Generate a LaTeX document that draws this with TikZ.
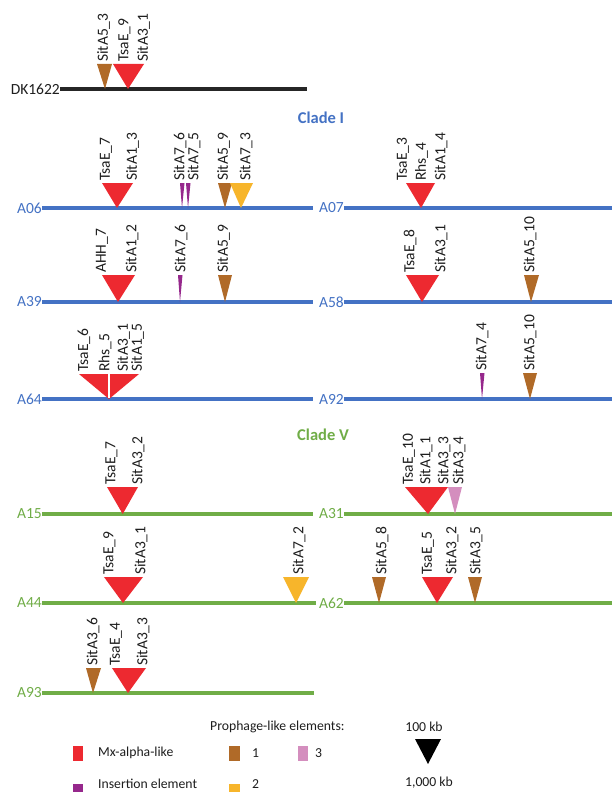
\documentclass[tikz,border=0pt]{standalone}
\usepackage{fontspec}
\setmainfont{Carlito}
\definecolor{mxred}{RGB}{237,41,48}
\definecolor{phbrown}{RGB}{176,106,40}
\definecolor{insp}{RGB}{150,40,140}
\definecolor{phyel}{RGB}{247,181,43}
\definecolor{phpink}{RGB}{212,142,190}
\definecolor{cladeb}{RGB}{68,114,196}
\definecolor{cladeg}{RGB}{112,173,71}
\definecolor{txt}{RGB}{30,30,30}
\newcommand\mytri[6]{\fill[#1] (#2,#5) -- (#3,#5) -- (#4,#6) -- cycle;}
\newcommand\glab[3]{\node[lbl] at (#1,#2) {#3};}
\begin{document}
\begin{tikzpicture}[x=1pt,y=-1pt,
  lbl/.style={rotate=90,anchor=west,inner sep=0pt,text=txt,font=\fontsize{15.5}{18}\selectfont},
  chrlab/.style={anchor=east,inner sep=0pt,font=\fontsize{15.5}{18}\selectfont},
  bluelab/.style={chrlab,text=cladeb},
  greenlab/.style={chrlab,text=cladeg},
  blueline/.style={draw=cladeb,line width=3.5pt},
  greenline/.style={draw=cladeg,line width=3.5pt},
  title/.style={font=\fontsize{16.5}{19}\selectfont\bfseries,inner sep=0pt},
  leg/.style={anchor=west,inner sep=0pt,text=txt,font=\fontsize{13.7}{16}\selectfont}]
\useasboundingbox (0,0) rectangle (614,792);
\fill[white] (0,0) rectangle (614,792);

% DK1622
\node[chrlab,text=txt] (dk) at (60,89) {DK1622};
\coordinate (dkE) at (307,89);
\draw[line width=3.5pt,draw=black!85] (dk.east) -- (dkE);
\mytri{phbrown}{97}{112}{105}{64}{89}
\mytri{mxred}{113}{144}{128}{64}{89}
\glab{103.5}{62}{SitA5\_3}
\glab{124.5}{62}{TsaE\_9}
\glab{143.5}{62}{SitA3\_1}

% Clade I
\node[title,text=cladeb] (c1) at (321,118) {Clade I};

% A06
\node[bluelab] (a06) at (42,208) {A06};
\coordinate (a06E) at (313,208);
\draw[blueline] (a06.east) -- (a06E);
\mytri{mxred}{102}{133}{117}{183}{208}
\mytri{insp}{180}{184.5}{182}{183}{208}
\mytri{insp}{186}{190.5}{188}{183}{208}
\mytri{phbrown}{218}{232}{225}{183}{208}
\mytri{phyel}{230}{253}{241}{183}{208}
\glab{106}{181}{TsaE\_7}
\glab{132.5}{181}{SitA1\_3}
\glab{180}{181}{SitA7\_6}
\glab{194}{181}{SitA7\_5}
\glab{223.5}{181}{SitA5\_9}
\glab{246}{181}{SitA7\_3}

% A07
\node[bluelab] (a07) at (344,208) {A07};
\coordinate (a07E) at (612,208);
\draw[blueline] (a07.east) -- (a07E);
\mytri{mxred}{406}{435}{421}{183}{208}
\glab{403}{181}{TsaE\_3}
\glab{421.5}{181}{Rhs\_4}
\glab{441}{181}{SitA1\_4}

% A39
\node[bluelab] (a39) at (42,302) {A39};
\coordinate (a39E) at (313,302);
\draw[blueline] (a39.east) -- (a39E);
\mytri{mxred}{102}{135}{118}{275}{302}
\mytri{insp}{178}{182.5}{180}{275}{302}
\mytri{phbrown}{218}{232}{225}{275}{302}
\glab{102}{273}{AHH\_7}
\glab{132}{273}{SitA1\_2}
\glab{181}{273}{SitA7\_6}
\glab{223.5}{273}{SitA5\_9}

% A58
\node[bluelab] (a58) at (344,302) {A58};
\coordinate (a58E) at (612,302);
\draw[blueline] (a58.east) -- (a58E);
\mytri{mxred}{406}{439}{422}{275}{302}
\mytri{phbrown}{524}{539}{531}{275}{302}
\glab{410}{273}{TsaE\_8}
\glab{441}{273}{SitA3\_1}
\glab{530}{273}{SitA5\_10}

% A64
\node[bluelab] (a64) at (42,399) {A64};
\coordinate (a64E) at (313,399);
\draw[blueline] (a64.east) -- (a64E);
\mytri{mxred}{79}{139}{109}{374}{399}
\draw[white,line width=1.5pt] (109,374) -- (109,398);
\glab{84}{372}{TsaE\_6}
\glab{105}{372}{Rhs\_5}
\glab{123.5}{372}{SitA3\_1}
\glab{137.5}{372}{SitA1\_5}

% A92
\node[bluelab] (a92) at (344,399) {A92};
\coordinate (a92E) at (612,399);
\draw[blueline] (a92.east) -- (a92E);
\mytri{insp}{480}{484.5}{482}{373}{399}
\mytri{phbrown}{523}{537}{530}{373}{399}
\glab{482}{371}{SitA7\_4}
\glab{530}{371}{SitA5\_10}

% Clade V
\node[title,text=cladeg] (c5) at (323,435) {Clade V};

% A15
\node[greenlab] (a15) at (42,514) {A15};
\coordinate (a15E) at (313,514);
\draw[greenline] (a15.east) -- (a15E);
\mytri{mxred}{107}{138}{122.7}{487}{514}
\glab{111.5}{485}{TsaE\_7}
\glab{138}{485}{SitA3\_2}

% A31
\node[greenlab] (a31) at (344,514) {A31};
\coordinate (a31E) at (612,514);
\draw[greenline] (a31.east) -- (a31E);
\mytri{mxred}{405}{448}{428}{487}{514}
\mytri{phpink}{448}{462}{455}{487}{514}
\glab{409}{485}{TsaE\_10}
\glab{426}{485}{SitA1\_1}
\glab{444}{485}{SitA3\_3}
\glab{459}{485}{SitA3\_4}

% A44
\node[greenlab] (a44) at (42,603) {A44};
\coordinate (a44E) at (316,603);
\draw[greenline] (a44.east) -- (a44E);
\mytri{mxred}{104}{143}{123}{577}{603}
\mytri{phyel}{283}{309}{296}{577}{603}
\glab{109.5}{575}{TsaE\_9}
\glab{141}{575}{SitA3\_1}
\glab{299}{575}{SitA7\_2}

% A62
\node[greenlab] (a62) at (344,603) {A62};
\coordinate (a62E) at (612,603);
\draw[greenline] (a62.east) -- (a62E);
\mytri{phbrown}{372}{386}{379}{577}{603}
\mytri{mxred}{422}{453}{437}{577}{603}
\mytri{phbrown}{468}{482}{475}{577}{603}
\glab{382}{575}{SitA5\_8}
\glab{428}{575}{TsaE\_5}
\glab{452}{575}{SitA3\_2}
\glab{476}{575}{SitA3\_5}

% A93
\node[greenlab] (a93) at (42,693) {A93};
\coordinate (a93E) at (314,693);
\draw[greenline] (a93.east) -- (a93E);
\mytri{phbrown}{86}{101}{93}{668}{693}
\mytri{mxred}{112}{146}{128}{668}{693}
\glab{93}{666}{SitA3\_6}
\glab{116}{666}{TsaE\_4}
\glab{143}{666}{SitA3\_3}

% Legend
\node[leg] (ph) at (210,727) {Prophage-like elements:};
\node[leg,anchor=center] (k100) at (424,727) {100 kb};
\fill[black] (415,739) -- (441,739) -- (428,764) -- cycle;
\node[leg,anchor=center] (k1000) at (429,783) {1,000 kb};
\fill[mxred] (73,746) rectangle (83,761);
\node[leg] (lmx) at (98,753) {Mx-alpha-like};
\fill[insp] (73,784) rectangle (83,799);
\node[leg] (lins) at (98,784) {Insertion element};
\fill[phbrown] (229,746) rectangle (240,761);
\node[leg] (l1) at (252,753) {1};
\fill[phpink] (298,746) rectangle (308,761);
\node[leg] (l3) at (315,753) {3};
\fill[phyel] (229,784) rectangle (240,799);
\node[leg] (l2) at (252,784) {2};
\end{tikzpicture}
\end{document}
